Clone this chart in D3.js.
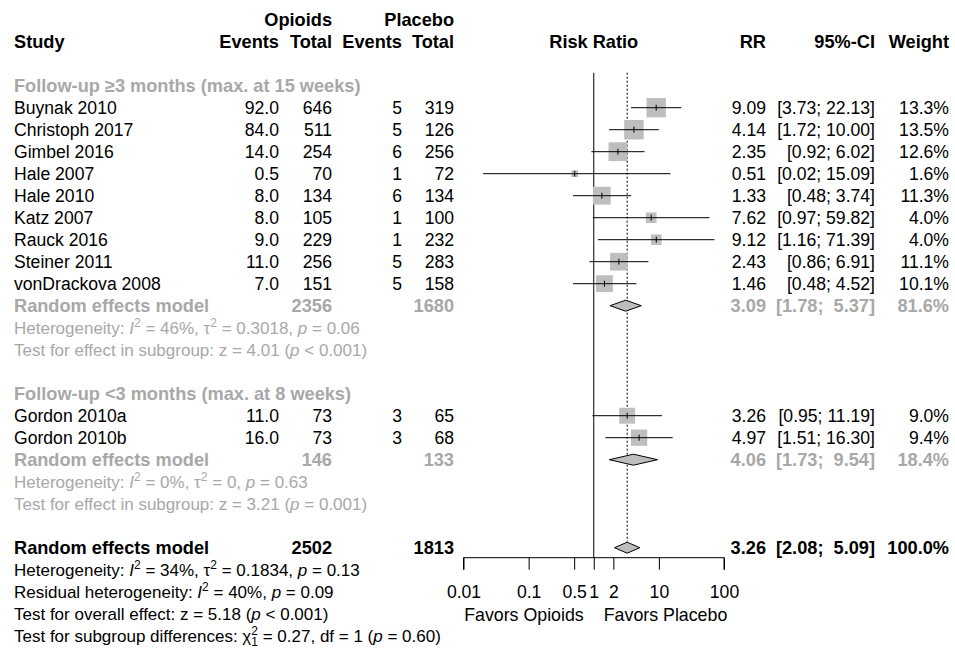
<!DOCTYPE html>
<html>
<head>
<meta charset="utf-8">
<script src="https://cdn.jsdelivr.net/npm/d3@7"></script>
<style>
  body { margin: 0; background: #fff; }
  svg text { font-family: "Liberation Sans", Arial, sans-serif; font-size: 17.6px; white-space: pre; }
  svg text.b { font-size: 18.2px; font-weight: bold; }
  svg text.stat { font-size: 17px; }
  svg text.lab { font-size: 17.8px; }
</style>
</head>
<body>
<div id="chart"></div>
<script>
// Study level data
const studies = ["Buynak 2010", "Christoph 2017", "Gimbel 2016", "Hale 2007", "Hale 2010", "Katz 2007",
    "Rauck 2016", "Steiner 2011", "vonDrackova 2008", "Gordon 2010a", "Gordon 2010b"];
const groupOf = [0, 0, 0, 0, 0, 0, 0, 0, 0, 1, 1];
const opioidEvents = [92.0, 84.0, 14.0, 0.5, 8.0, 8.0, 9.0, 11.0, 7.0, 11.0, 16.0];
const opioidTotal = [646, 511, 254, 70, 134, 105, 229, 256, 151, 73, 73];
const placeboEvents = [5, 5, 6, 1, 6, 1, 1, 5, 5, 3, 3];
const placeboTotal = [319, 126, 256, 72, 134, 100, 232, 283, 158, 65, 68];
const rr = [9.09, 4.14, 2.35, 0.51, 1.33, 7.62, 9.12, 2.43, 1.46, 3.26, 4.97];
const lower = [3.73, 1.72, 0.92, 0.02, 0.48, 0.97, 1.16, 0.86, 0.48, 0.95, 1.51];
const upper = [22.13, 10.00, 6.02, 15.09, 3.74, 59.82, 71.39, 6.91, 4.52, 11.19, 16.30];
const weight = [13.3, 13.5, 12.6, 1.6, 11.3, 4.0, 4.0, 11.1, 10.1, 9.0, 9.4];

// Subgroups and pooled results
const groupLabels = ["Follow-up \u22653 months (max. at 15 weeks)", "Follow-up <3 months (max. at 8 weeks)"];
const groupOpioidTotal = [2356, 146];
const groupPlaceboTotal = [1680, 133];
const groupRR = [3.09, 4.06];
const groupLower = [1.78, 1.73];
const groupUpper = [5.37, 9.54];
const groupWeight = [81.6, 18.4];
const groupHet = [["46%", "0.3018", "0.06"], ["0%", "0", "0.63"]];
const groupTest = [["4.01", "<", "0.001"], ["3.21", "=", "0.001"]];

const overall = {total1: 2502, total2: 1813, rr: 3.26, lower: 2.08, upper: 5.09, weight: 100.0};
const axisTicks = [0.01, 0.1, 0.5, 1, 2, 10, 100];

const width = 955, height = 648;
const rowH = 22, row0 = 85.7;
const rowY = i => row0 + i * rowH;
const grey = "#a8a8a8";
const boxFill = "#bebebe";

const col = {study: 14, ev1: 279, tot1: 332, ev2: 402, tot2: 454, rr: 766, ci: 875, w: 949};

const x = d3.scaleLog().domain([0.01, 100]).range([463.5, 724]);

const svg = d3.select("#chart").append("svg")
    .attr("width", width)
    .attr("height", height)
    .attr("viewBox", [0, 0, width, height]);

function txt(xx, yy, s, opts = {}) {
    return svg.append("text")
        .attr("class", opts.bold ? "b" : (opts.cls || null))
        .attr("x", xx)
        .attr("y", yy)
        .attr("dy", "0.35em")
        .attr("text-anchor", opts.anchor || "start")
        .attr("fill", opts.fill || "#000")
        .text(s);
}

// text built from pieces: plain strings, {t, it}, {t, sup}, {t, sup, sub}
function rich(xx, yy, parts, fill) {
    const t = svg.append("text")
        .attr("class", "stat")
        .attr("x", xx)
        .attr("y", yy)
        .attr("dy", "0.35em")
        .attr("fill", fill);
    let shifted = 0;
    parts.forEach(p => {
        if (typeof p === "string") p = {t: p};
        const s = t.append("tspan").text(p.t);
        if (shifted) { s.attr("dy", -shifted); shifted = 0; }
        if (p.it) s.attr("font-style", "italic");
        if (p.sup) {
            s.attr("font-size", 12).attr("dy", -7);
            shifted = -7;
            if (p.sub) {
                t.append("tspan").attr("font-size", 12).attr("dx", -6.7).attr("dy", 11).text(p.sub);
                shifted = 4;
            }
        }
    });
    return t;
}

const fmtCI = (lo, hi, wide) => "[" + lo.toFixed(2) + ";" + (wide && hi < 10 ? "  " : " ") + hi.toFixed(2) + "]";

// Header
txt(col.tot1, rowY(-3), "Opioids", {anchor: "end", bold: true});
txt(col.tot2, rowY(-3), "Placebo", {anchor: "end", bold: true});
txt(col.study, rowY(-2), "Study", {bold: true});
txt(col.ev1, rowY(-2), "Events", {anchor: "end", bold: true});
txt(col.tot1, rowY(-2), "Total", {anchor: "end", bold: true});
txt(col.ev2, rowY(-2), "Events", {anchor: "end", bold: true});
txt(col.tot2, rowY(-2), "Total", {anchor: "end", bold: true});
txt(x(1), rowY(-2), "Risk Ratio", {anchor: "middle", bold: true});
txt(col.rr, rowY(-2), "RR", {anchor: "end", bold: true});
txt(col.ci, rowY(-2), "95%-CI", {anchor: "end", bold: true});
txt(col.w, rowY(-2), "Weight", {anchor: "end", bold: true});

// Row layout
const studyRow = [];
const groupRow = [];
let r = 0;
[0, 1].forEach(g => {
    groupRow.push({head: r});
    r++;
    studies.forEach((s, i) => { if (groupOf[i] === g) studyRow[i] = r++; });
    groupRow[g].model = r;
    r += 4;
});
const overallRow = r;

// Reference lines
const yTop = rowY(0) - 13, axisY = rowY(overallRow) + 10;
svg.append("line")
    .attr("x1", x(1)).attr("x2", x(1))
    .attr("y1", yTop).attr("y2", axisY)
    .attr("stroke", "#000");
svg.append("line")
    .attr("x1", x(overall.rr)).attr("x2", x(overall.rr))
    .attr("y1", yTop).attr("y2", rowY(overallRow) - 6)
    .attr("stroke", "#000")
    .attr("stroke-dasharray", "2,2");

function diamond(yy, est, lo, hi) {
    svg.append("path")
        .attr("d", `M${x(lo)},${yy}L${x(est)},${yy - 5.5}L${x(hi)},${yy}L${x(est)},${yy + 5.5}Z`)
        .attr("fill", boxFill)
        .attr("stroke", "#000")
        .attr("stroke-width", 1);
}

// Studies
studies.forEach((s, i) => {
    const yy = rowY(studyRow[i]);
    txt(col.study, yy, s);
    txt(col.ev1, yy, opioidEvents[i].toFixed(1), {anchor: "end"});
    txt(col.tot1, yy, opioidTotal[i], {anchor: "end"});
    txt(col.ev2, yy, placeboEvents[i], {anchor: "end"});
    txt(col.tot2, yy, placeboTotal[i], {anchor: "end"});
    txt(col.rr, yy, rr[i].toFixed(2), {anchor: "end"});
    txt(col.ci, yy, fmtCI(lower[i], upper[i], false), {anchor: "end"});
    txt(col.w, yy, weight[i].toFixed(1) + "%", {anchor: "end"});

    const side = 5.3 * Math.sqrt(weight[i]);
    svg.append("rect")
        .attr("x", x(rr[i]) - side / 2)
        .attr("y", yy - side / 2)
        .attr("width", side)
        .attr("height", side)
        .attr("fill", boxFill);
    svg.append("line")
        .attr("x1", x(lower[i])).attr("x2", x(upper[i]))
        .attr("y1", yy).attr("y2", yy)
        .attr("stroke", "#000");
    svg.append("line")
        .attr("x1", x(rr[i])).attr("x2", x(rr[i]))
        .attr("y1", yy - 3).attr("y2", yy + 3)
        .attr("stroke", "#000");
});

// Subgroup summaries
groupRow.forEach((gr, g) => {
    txt(col.study, rowY(gr.head), groupLabels[g], {bold: true, fill: grey});
    const yy = rowY(gr.model);
    txt(col.study, yy, "Random effects model", {bold: true, fill: grey});
    txt(col.tot1, yy, groupOpioidTotal[g], {anchor: "end", bold: true, fill: grey});
    txt(col.tot2, yy, groupPlaceboTotal[g], {anchor: "end", bold: true, fill: grey});
    txt(col.rr, yy, groupRR[g].toFixed(2), {anchor: "end", bold: true, fill: grey});
    txt(col.ci, yy, fmtCI(groupLower[g], groupUpper[g], true), {anchor: "end", bold: true, fill: grey});
    txt(col.w, yy, groupWeight[g].toFixed(1) + "%", {anchor: "end", bold: true, fill: grey});
    diamond(yy, groupRR[g], groupLower[g], groupUpper[g]);

    const h = groupHet[g], t = groupTest[g];
    rich(col.study, rowY(gr.model + 1), ["Heterogeneity: ", {t: "I", it: true}, {t: "2", sup: true},
        " = " + h[0] + ", \u03c4", {t: "2", sup: true}, " = " + h[1] + ", ", {t: "p", it: true}, " = " + h[2]], grey);
    rich(col.study, rowY(gr.model + 2), ["Test for effect in subgroup: z = " + t[0] + " (", {t: "p", it: true},
        " " + t[1] + " " + t[2] + ")"], grey);
});

// Overall
const oy = rowY(overallRow);
txt(col.study, oy, "Random effects model", {bold: true});
txt(col.tot1, oy, overall.total1, {anchor: "end", bold: true});
txt(col.tot2, oy, overall.total2, {anchor: "end", bold: true});
txt(col.rr, oy, overall.rr.toFixed(2), {anchor: "end", bold: true});
txt(col.ci, oy, fmtCI(overall.lower, overall.upper, true), {anchor: "end", bold: true});
txt(col.w, oy, overall.weight.toFixed(1) + "%", {anchor: "end", bold: true});
diamond(oy, overall.rr, overall.lower, overall.upper);

rich(col.study, rowY(overallRow + 1), ["Heterogeneity: ", {t: "I", it: true}, {t: "2", sup: true},
    " = 34%, \u03c4", {t: "2", sup: true}, " = 0.1834, ", {t: "p", it: true}, " = 0.13"], "#000");
rich(col.study, rowY(overallRow + 2), ["Residual heterogeneity: ", {t: "I", it: true}, {t: "2", sup: true},
    " = 40%, ", {t: "p", it: true}, " = 0.09"], "#000");
rich(col.study, rowY(overallRow + 3), ["Test for overall effect: z = 5.18 (", {t: "p", it: true}, " < 0.001)"], "#000");
rich(col.study, rowY(overallRow + 4), ["Test for subgroup differences: \u03c7", {t: "2", sup: true, sub: "1"},
    " = 0.27, df = 1 (", {t: "p", it: true}, " = 0.60)"], "#000");

// Axis
const axis = svg.append("g")
    .attr("transform", `translate(0,${axisY})`)
    .call(d3.axisBottom(x).tickValues(axisTicks).tickFormat(d => String(d)).tickSize(12).tickPadding(16));
axis.select(".domain").attr("stroke", "#000").attr("d", `M${x(0.01)},12V0H${x(100)}V12`);
axis.selectAll(".tick line").attr("stroke", "#000");
axis.selectAll(".tick text")
    .attr("font-size", 17)
    .attr("font-family", "Liberation Sans, Arial, sans-serif")
    .attr("fill", "#000");

txt(x(1) - 10, axisY + 57, "Favors Opioids", {anchor: "end", cls: "lab"});
txt(x(1) + 10, axisY + 57, "Favors Placebo", {cls: "lab"});
</script>
</body>
</html>
